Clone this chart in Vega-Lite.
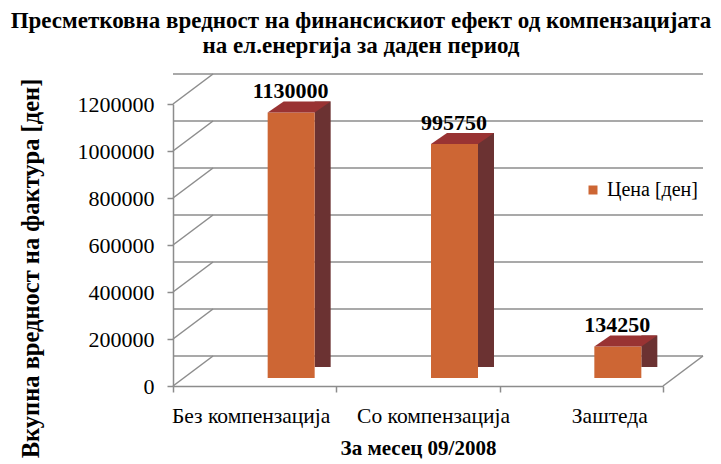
{
  "$schema": "https://vega.github.io/schema/vega-lite/v6.json",
  "width": 490,
  "height": 282,
  "autosize": {"type": "none"},
  "padding": {"left": 173, "top": 104, "right": 58, "bottom": 78},
  "background": "white",
  "config": {
    "font": "Liberation Serif, Times New Roman, serif",
    "view": {"stroke": null},
    "axisX": {
      "titleFont": "Liberation Serif, Times New Roman, serif", "titleFontSize": 21, "titleFontWeight": "bold", "titleColor": "black", "titlePadding": 11,
      "labelFont": "Liberation Serif, Times New Roman, serif", "labelFontSize": 21.5, "labelFontWeight": "normal", "labelColor": "black", "labelAngle": 0, "labelPadding": 13,
      "tickBand": "extent", "tickSize": 6, "tickColor": "#8c8c8c", "tickWidth": 1.5,
      "domainColor": "#8c8c8c", "domainWidth": 1.5, "grid": false
    },
    "axisY": {
      "titleFont": "Liberation Serif, Times New Roman, serif", "titleFontSize": 24.5, "titleFontWeight": "bold", "titleColor": "black",
      "titleX": -130, "titleY": 164, "titleAngle": -90, "titleBaseline": "bottom", "titleAlign": "center",
      "labelFont": "Liberation Serif, Times New Roman, serif", "labelFontSize": 22, "labelFontWeight": "normal", "labelColor": "black", "labelPadding": 13,
      "tickSize": 6, "tickColor": "#8c8c8c", "tickWidth": 1.5,
      "domainColor": "#8c8c8c", "domainWidth": 1.5, "grid": false
    },
    "legend": {"labelFont": "Liberation Serif, Times New Roman, serif", "labelFontWeight": "normal"}
  },
  "title": {
    "text": ["Пресметковна вредност на финансискиот ефект од компензацијата", "на ел.енергија за даден период"],
    "font": "Liberation Serif, Times New Roman, serif",
    "fontSize": 23,
    "fontWeight": "bold",
    "color": "black",
    "anchor": "middle",
    "dx": -57,
    "offset": 13,
    "lineHeight": 25
  },
  "datasets": {
    "bars": [
      {"cat": "Без компензација", "value": 1130000, "series": "Цена [ден]"},
      {"cat": "Со компензација", "value": 995750, "series": "Цена [ден]"},
      {"cat": "Заштеда", "value": 134250, "series": "Цена [ден]"}
    ],
    "ticks": [
      {"v": 0}, {"v": 200000}, {"v": 400000}, {"v": 600000}, {"v": 800000}, {"v": 1000000}, {"v": 1200000}
    ],
    "corner": [{"cat": "Заштеда", "v": 0}]
  },
  "layer": [
    {
      "data": {"name": "ticks"},
      "mark": {"type": "rule", "color": "#8c8c8c", "strokeWidth": 1.5, "xOffset": 40, "x2Offset": 40, "yOffset": -30},
      "encoding": {
        "y": {"field": "v", "type": "quantitative", "scale": {"domain": [0, 1200000], "nice": false},
              "axis": {"title": "Вкупна вредност на фактура [ден]", "values": [0, 200000, 400000, 600000, 800000, 1000000, 1200000], "format": "d"}}
      }
    },
    {
      "data": {"name": "ticks"},
      "mark": {"type": "point", "shape": "M0,0L40,-30", "size": 4, "filled": false, "stroke": "#8c8c8c", "strokeWidth": 1.5, "opacity": 1},
      "encoding": {
        "x": {"datum": "Без компензација", "type": "nominal", "bandPosition": 0, "scale": {"domain": ["Без компензација", "Со компензација", "Заштеда"], "paddingInner": 0, "paddingOuter": 0},
              "axis": {"title": "За месец 09/2008", "labelOffset": {"condition": [{"test": "datum.value === 'Заштеда'", "value": 28}, {"test": "datum.value === 'Со компензација'", "value": 15}], "value": -4}}},
        "y": {"field": "v", "type": "quantitative", "scale": {"domain": [0, 1200000], "nice": false},
              "axis": {"title": "Вкупна вредност на фактура [ден]", "values": [0, 200000, 400000, 600000, 800000, 1000000, 1200000], "format": "d"}}
      }
    },
    {
      "data": {"name": "corner"},
      "mark": {"type": "point", "shape": "M0,0L40,-30", "size": 4, "filled": false, "stroke": "#8c8c8c", "strokeWidth": 1.5, "opacity": 1},
      "encoding": {
        "x": {"field": "cat", "type": "nominal", "bandPosition": 1, "scale": {"domain": ["Без компензација", "Со компензација", "Заштеда"], "paddingInner": 0, "paddingOuter": 0},
              "axis": {"title": "За месец 09/2008", "labelOffset": {"condition": [{"test": "datum.value === 'Заштеда'", "value": 28}, {"test": "datum.value === 'Со компензација'", "value": 15}], "value": -4}}},
        "y": {"field": "v", "type": "quantitative", "scale": {"domain": [0, 1200000], "nice": false},
              "axis": {"title": "Вкупна вредност на фактура [ден]", "values": [0, 200000, 400000, 600000, 800000, 1000000, 1200000], "format": "d"}}
      }
    },
    {
      "data": {"name": "bars"},
      "mark": {"type": "bar", "color": "#6b3232", "width": 16, "xOffset": 68, "yOffset": -19, "y2Offset": -8},
      "encoding": {
        "x": {"field": "cat", "type": "nominal", "scale": {"domain": ["Без компензација", "Со компензација", "Заштеда"], "paddingInner": 0, "paddingOuter": 0},
              "axis": {"title": "За месец 09/2008", "labelOffset": {"condition": [{"test": "datum.value === 'Заштеда'", "value": 28}, {"test": "datum.value === 'Со компензација'", "value": 15}], "value": -4}}},
        "y": {"field": "value", "type": "quantitative", "scale": {"domain": [0, 1200000], "nice": false},
              "axis": {"title": "Вкупна вредност на фактура [ден]", "values": [0, 200000, 400000, 600000, 800000, 1000000, 1200000], "format": "d"}}
      }
    },
    {
      "data": {"name": "bars"},
      "mark": {"type": "point", "shape": "M59,-7L77,-7L77,-19Z", "size": 4, "filled": true, "color": "white", "opacity": 1, "strokeWidth": 0},
      "encoding": {
        "x": {"field": "cat", "type": "nominal", "scale": {"domain": ["Без компензација", "Со компензација", "Заштеда"], "paddingInner": 0, "paddingOuter": 0},
              "axis": {"title": "За месец 09/2008", "labelOffset": {"condition": [{"test": "datum.value === 'Заштеда'", "value": 28}, {"test": "datum.value === 'Со компензација'", "value": 15}], "value": -4}}},
        "y": {"datum": 0, "type": "quantitative", "scale": {"domain": [0, 1200000], "nice": false},
              "axis": {"title": "Вкупна вредност на фактура [ден]", "values": [0, 200000, 400000, 600000, 800000, 1000000, 1200000], "format": "d"}}
      }
    },
    {
      "data": {"name": "bars"},
      "mark": {"type": "bar", "width": 47, "xOffset": 36.5, "yOffset": -8, "y2Offset": -8},
      "encoding": {
        "x": {"field": "cat", "type": "nominal", "scale": {"domain": ["Без компензација", "Со компензација", "Заштеда"], "paddingInner": 0, "paddingOuter": 0},
              "axis": {"title": "За месец 09/2008", "labelOffset": {"condition": [{"test": "datum.value === 'Заштеда'", "value": 28}, {"test": "datum.value === 'Со компензација'", "value": 15}], "value": -4}}},
        "y": {"field": "value", "type": "quantitative", "scale": {"domain": [0, 1200000], "nice": false},
              "axis": {"title": "Вкупна вредност на фактура [ден]", "values": [0, 200000, 400000, 600000, 800000, 1000000, 1200000], "format": "d"}},
        "color": {
          "field": "series", "type": "nominal",
          "scale": {"range": ["#cd6634"]},
          "legend": {
            "title": null, "orient": "none", "legendX": 410, "legendY": 76,
            "symbolType": "square", "symbolSize": 81, "symbolStrokeWidth": 0,
            "labelFontSize": 20, "labelColor": "black", "labelOffset": 4, "padding": 0
          }
        }
      }
    },
    {
      "data": {"name": "bars"},
      "mark": {"type": "point", "shape": "M13,-8L60,-8L76,-19L29,-19Z", "size": 4, "filled": true, "color": "#993333", "opacity": 1, "strokeWidth": 0},
      "encoding": {
        "x": {"field": "cat", "type": "nominal", "scale": {"domain": ["Без компензација", "Со компензација", "Заштеда"], "paddingInner": 0, "paddingOuter": 0},
              "axis": {"title": "За месец 09/2008", "labelOffset": {"condition": [{"test": "datum.value === 'Заштеда'", "value": 28}, {"test": "datum.value === 'Со компензација'", "value": 15}], "value": -4}}},
        "y": {"field": "value", "type": "quantitative", "scale": {"domain": [0, 1200000], "nice": false},
              "axis": {"title": "Вкупна вредност на фактура [ден]", "values": [0, 200000, 400000, 600000, 800000, 1000000, 1200000], "format": "d"}}
      }
    },
    {
      "data": {"name": "bars"},
      "mark": {"type": "text", "font": "Liberation Serif, Times New Roman, serif", "fontSize": 22, "fontWeight": "bold", "color": "black", "baseline": "alphabetic", "xOffset": 36, "yOffset": -22},
      "encoding": {
        "x": {"field": "cat", "type": "nominal", "scale": {"domain": ["Без компензација", "Со компензација", "Заштеда"], "paddingInner": 0, "paddingOuter": 0},
              "axis": {"title": "За месец 09/2008", "labelOffset": {"condition": [{"test": "datum.value === 'Заштеда'", "value": 28}, {"test": "datum.value === 'Со компензација'", "value": 15}], "value": -4}}},
        "y": {"field": "value", "type": "quantitative", "scale": {"domain": [0, 1200000], "nice": false},
              "axis": {"title": "Вкупна вредност на фактура [ден]", "values": [0, 200000, 400000, 600000, 800000, 1000000, 1200000], "format": "d"}},
        "text": {"field": "value", "type": "quantitative", "format": "d"}
      }
    }
  ]
}
